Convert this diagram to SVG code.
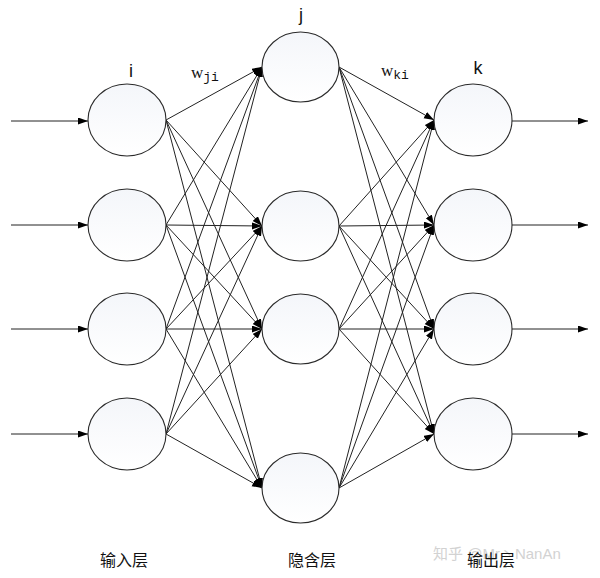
<svg xmlns="http://www.w3.org/2000/svg" width="600" height="578" viewBox="0 0 600 578">
<style>
.node{fill:url(#g);stroke:#2a2a2a;stroke-width:1.1}
.c line{stroke:#222;stroke-width:1;marker-end:url(#ah)}
.lbl{font-family:"Liberation Sans",Arial,sans-serif;font-size:18px;fill:#111}
.w{font-family:"Liberation Serif",serif;font-size:17px;fill:#111}
.sub{font-family:"Liberation Mono","DejaVu Sans Mono",monospace;font-size:13px;fill:#111}
.cn{font-family:"Noto Sans CJK SC",sans-serif;font-size:16px;fill:#111}
.wm{font-family:"Liberation Sans","Noto Sans CJK SC",sans-serif;font-size:15px;fill:#d2d2d2}
</style>
<defs>
<linearGradient id="g" x1="0" y1="0" x2="0" y2="1">
<stop offset="0" stop-color="#f4f6fa"/>
<stop offset="1" stop-color="#ffffff"/>
</linearGradient>
<marker id="ah" markerUnits="userSpaceOnUse" markerWidth="10" markerHeight="8" refX="10" refY="3.5" orient="auto">
<path d="M0,0 L10,3.5 L0,7 z" fill="#000"/>
</marker>
</defs>
<rect width="600" height="578" fill="#fff"/>
<g class="c" id="connectors">
<line x1="11" y1="121" x2="88" y2="121"/>
<line x1="11" y1="225" x2="88" y2="225"/>
<line x1="11" y1="329" x2="88" y2="329"/>
<line x1="11" y1="434" x2="88" y2="434"/>
<line x1="166" y1="120" x2="262" y2="67"/>
<line x1="166" y1="120" x2="262" y2="226"/>
<line x1="166" y1="120" x2="262" y2="329"/>
<line x1="166" y1="120" x2="262" y2="488"/>
<line x1="166" y1="225" x2="262" y2="67"/>
<line x1="166" y1="225" x2="262" y2="226"/>
<line x1="166" y1="225" x2="262" y2="329"/>
<line x1="166" y1="225" x2="262" y2="488"/>
<line x1="166" y1="329" x2="262" y2="67"/>
<line x1="166" y1="329" x2="262" y2="226"/>
<line x1="166" y1="329" x2="262" y2="329"/>
<line x1="166" y1="329" x2="262" y2="488"/>
<line x1="166" y1="434" x2="262" y2="67"/>
<line x1="166" y1="434" x2="262" y2="226"/>
<line x1="166" y1="434" x2="262" y2="329"/>
<line x1="166" y1="434" x2="262" y2="488"/>
<line x1="339" y1="67" x2="434" y2="120"/>
<line x1="339" y1="67" x2="434" y2="225"/>
<line x1="339" y1="67" x2="434" y2="329"/>
<line x1="339" y1="67" x2="434" y2="434"/>
<line x1="339" y1="226" x2="434" y2="120"/>
<line x1="339" y1="226" x2="434" y2="225"/>
<line x1="339" y1="226" x2="434" y2="329"/>
<line x1="339" y1="226" x2="434" y2="434"/>
<line x1="339" y1="329" x2="434" y2="120"/>
<line x1="339" y1="329" x2="434" y2="225"/>
<line x1="339" y1="329" x2="434" y2="329"/>
<line x1="339" y1="329" x2="434" y2="434"/>
<line x1="339" y1="488" x2="434" y2="120"/>
<line x1="339" y1="488" x2="434" y2="225"/>
<line x1="339" y1="488" x2="434" y2="329"/>
<line x1="339" y1="488" x2="434" y2="434"/>
<line x1="512" y1="121" x2="588" y2="121"/>
<line x1="512" y1="225" x2="588" y2="225"/>
<line x1="512" y1="329" x2="588" y2="329"/>
<line x1="512" y1="434" x2="588" y2="434"/>
</g>
<g id="in1"><ellipse class="node" cx="127" cy="120" rx="39" ry="36"/></g>
<g id="in2"><ellipse class="node" cx="127" cy="225" rx="39" ry="36"/></g>
<g id="in3"><ellipse class="node" cx="127" cy="329" rx="39" ry="36"/></g>
<g id="in4"><ellipse class="node" cx="127" cy="434" rx="39" ry="36"/></g>
<g id="h1"><ellipse class="node" cx="300.5" cy="67" rx="38.5" ry="35"/></g>
<g id="h2"><ellipse class="node" cx="300.5" cy="226" rx="38.5" ry="35"/></g>
<g id="h3"><ellipse class="node" cx="300.5" cy="329" rx="38.5" ry="35"/></g>
<g id="h4"><ellipse class="node" cx="300.5" cy="488" rx="38.5" ry="35"/></g>
<g id="o1"><ellipse class="node" cx="473" cy="120" rx="39" ry="36"/></g>
<g id="o2"><ellipse class="node" cx="473" cy="225" rx="39" ry="36"/></g>
<g id="o3"><ellipse class="node" cx="473" cy="329" rx="39" ry="36"/></g>
<g id="o4"><ellipse class="node" cx="473" cy="434" rx="39" ry="36"/></g>
<g id="labels">
<text class="lbl" x="131" y="77" text-anchor="middle">i</text>
<text class="lbl" x="301" y="21" text-anchor="middle">j</text>
<text class="lbl" x="478" y="74" text-anchor="middle">k</text>
<text x="191" y="78"><tspan class="w">w</tspan><tspan class="sub" dy="3">ji</tspan></text>
<text x="381" y="76"><tspan class="w">w</tspan><tspan class="sub" dy="3">ki</tspan></text>
<text class="cn" x="100" y="566">输入层</text>
<text class="cn" x="288" y="566">隐含层</text>
<text class="wm" x="433" y="559">知乎 @Mr丶NanAn</text>
<text class="cn" x="467" y="566">输出层</text>
</g>
</svg>
